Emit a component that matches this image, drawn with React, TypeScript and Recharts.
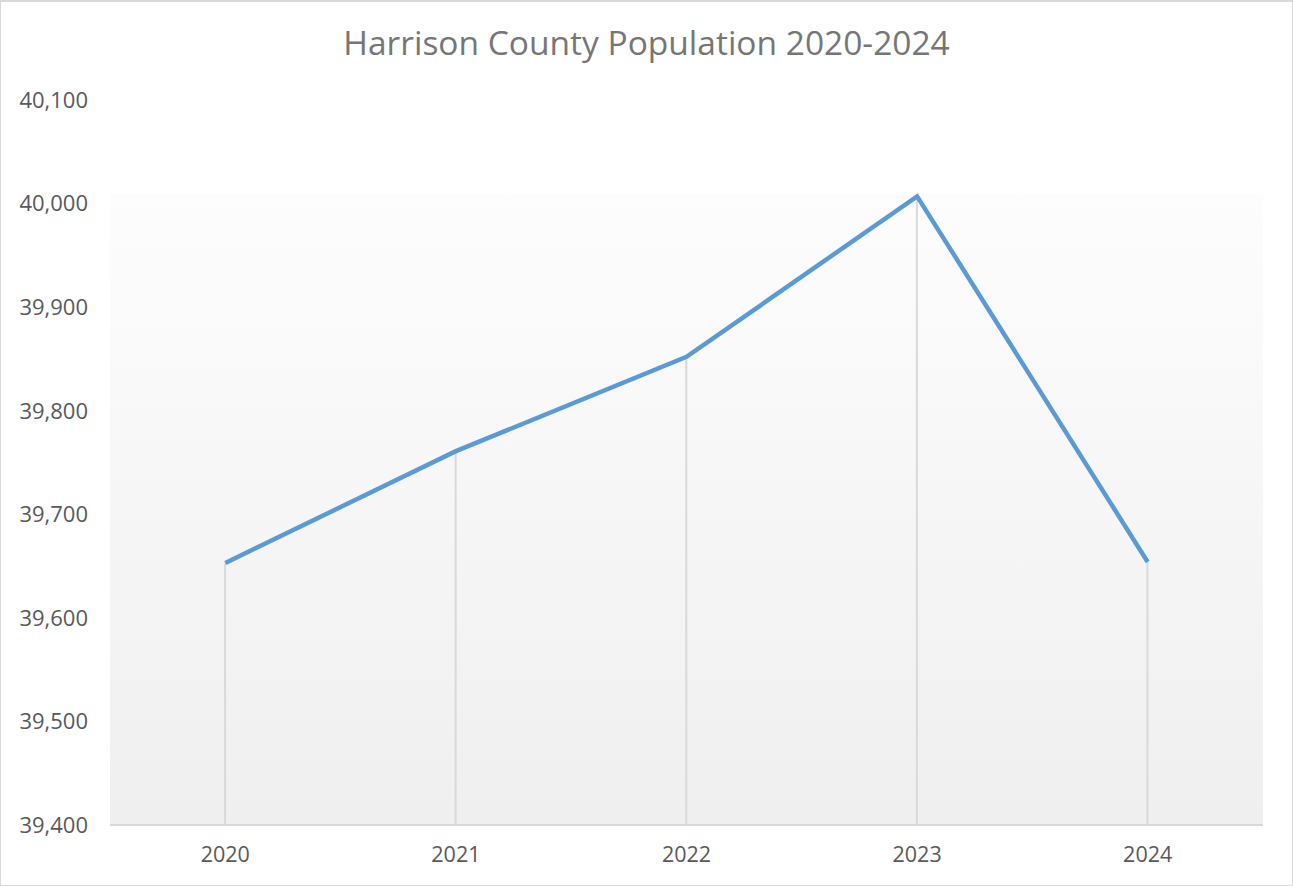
import { ComposedChart, Line, Bar, XAxis, YAxis, ReferenceArea } from "recharts";

const years = ["2020", "2021", "2022", "2023", "2024"];
const population = [39653, 39761, 39852, 40007, 39654];
const yTicks = [39400, 39500, 39600, 39700, 39800, 39900, 40000, 40100];

const data = years.map((year, i) => ({ year, population: population[i] }));

// thin vertical drop line from the point down to the axis
const DropLine = (props: any) => {
  const { x, y, width, height } = props;
  if (height == null) return null;
  const cx = x + width / 2;
  return <line x1={cx} y1={y} x2={cx} y2={y + height} stroke="#d9d9d9" strokeWidth={2} />;
};

export default function App() {
  const font = "'Open Sans', 'Noto Sans', sans-serif";
  return (
    <div style={{ position: "absolute", left: 0, top: 0, width: 1293, height: 886, background: "#fff", fontFamily: font }}>
      <ComposedChart width={1293} height={886} data={data} margin={{ top: 100, right: 30, left: 0, bottom: 0 }}>
        <defs>
          <linearGradient id="plotBg" x1="0" y1="0" x2="0" y2="1">
            <stop offset="0%" stopColor="#fdfdfd" />
            <stop offset="100%" stopColor="#efefef" />
          </linearGradient>
        </defs>
        <ReferenceArea y1={39400} y2={40010} fill="url(#plotBg)" fillOpacity={1} stroke="none" ifOverflow="hidden" />
        <XAxis
          dataKey="year"
          height={61}
          tickLine={false}
          axisLine={{ stroke: "#d9d9d9", strokeWidth: 2 }}
          tick={{ fill: "#595959", fontSize: 21.5, fontFamily: font }}
          tickMargin={16}
        />
        <YAxis
          width={110}
          domain={[39400, 40100]}
          ticks={yTicks}
          interval={0}
          axisLine={false}
          tickLine={false}
          tickMargin={16}
          tick={{ fill: "#595959", fontSize: 22, fontFamily: font }}
          tickFormatter={(v: number) => v.toLocaleString("en-US")}
        />
        <Bar dataKey="population" shape={DropLine} isAnimationActive={false} />
        <Line
          type="linear"
          dataKey="population"
          stroke="#5b9bd5"
          strokeWidth={4.5}
          dot={false}
          activeDot={false}
          isAnimationActive={false}
        />
      </ComposedChart>
      <div
        style={{
          position: "absolute",
          left: 0,
          top: 26,
          width: 1293,
          textAlign: "center",
          fontSize: 33.5,
          lineHeight: 1,
          color: "#767676",
          fontFamily: font,
        }}
      >
        Harrison County Population 2020-2024
      </div>
      <div
        style={{
          position: "absolute",
          left: 0,
          top: 0,
          width: 1293,
          height: 886,
          boxSizing: "border-box",
          border: "1px solid #d9d9d9",
          borderTopWidth: 2,
          pointerEvents: "none",
        }}
      />
    </div>
  );
}
